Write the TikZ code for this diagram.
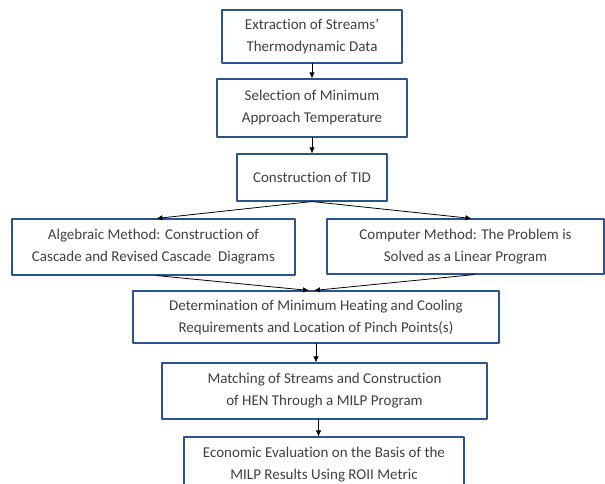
\documentclass[tikz,border=0pt]{standalone}
\usepackage{fontspec}
\setmainfont{Carlito}[Ligatures={NoCommon}]
\usetikzlibrary{arrows.meta}

\definecolor{boxblue}{HTML}{2F528F}
\definecolor{txtgray}{HTML}{404040}

\tikzset{
  stage/.style={draw=boxblue, line width=1.1pt, fill=white, text=txtgray,
    align=center, inner sep=2pt, font=\fontsize{15}{22}\selectfont},
  flow/.style={-{Latex[length=6pt,width=5.5pt]}, line width=0.8pt, black}
}

\begin{document}
\begin{tikzpicture}[x=1pt, y=-1pt, line cap=round, line join=round]

% -----------------------
% Frame (reference size)
% -----------------------
\useasboundingbox (0,0) rectangle (605,484);
\clip (0,0) rectangle (605,484);

% -----------------------
% Stages
% -----------------------
\node[stage, minimum width=180pt, minimum height=53pt] (extract) at (312,36.5)
  {Extraction of Streams'\\Thermodynamic Data};
\node[stage, minimum width=190pt, minimum height=58pt] (dtmin) at (312,108)
  {Selection of Minimum\\Approach Temperature};
\node[stage, minimum width=150pt, minimum height=47pt] (tid) at (312,177.5)
  {Construction of TID};

% Two ways of solving
\node[stage, minimum width=283pt, minimum height=56pt] (algebra) at (153.5,247)
  {Algebraic Method: Construction of\\Cascade and Revised Cascade\ \ Diagrams};
\node[stage, minimum width=277pt, minimum height=55pt] (computer) at (465.5,246.5)
  {Computer Method: The Problem is\\Solved as a Linear Program};

\node[stage, minimum width=366pt, minimum height=52pt] (pinch) at (316,317)
  {Determination of Minimum Heating and Cooling\\Requirements and Location of Pinch Points(s)};
\node[stage, minimum width=325pt, minimum height=56pt] (hen) at (324.5,391)
  {Matching of Streams and Construction\\of HEN Through a MILP Program};
\node[stage, minimum width=280pt, minimum height=55pt] (econ) at (324,464.5)
  {Economic Evaluation on the Basis of the\\MILP Results Using ROII Metric};

% -----------------------
% Connectors
% -----------------------
\draw[flow] (extract) -- (dtmin);
\draw[flow] (dtmin) -- (tid);

\draw[flow] (tid.south) -- ([xshift=3pt]algebra.north);
\draw[flow] (tid.south) -- ([xshift=6pt]computer.north);

\draw[flow] ([xshift=3pt]algebra.south) -- ([xshift=-7pt]pinch.north);
\draw[flow] ([xshift=9pt]computer.south) -- ([xshift=-2pt]pinch.north);

\draw[flow] (pinch.south) -- (pinch.south |- hen.north);
\draw[flow] ([xshift=-6pt]hen.south) -- ([xshift=-6pt]hen.south |- econ.north);

\end{tikzpicture}
\end{document}
